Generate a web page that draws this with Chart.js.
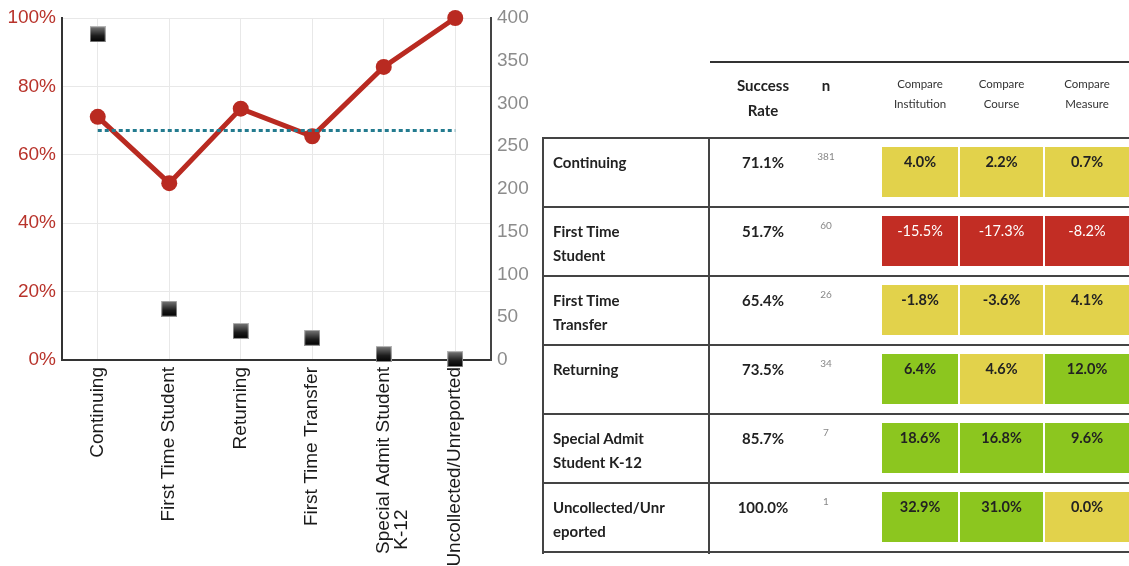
<!DOCTYPE html>
<html>
<head>
<meta charset="utf-8">
<script src="https://cdn.jsdelivr.net/npm/chart.js@4.4.1/dist/chart.umd.min.js"></script>
<style>
  body { margin: 0; background: #fff; }
  #wrap { position: relative; width: 1129px; height: 566px; overflow: hidden; }
  #chartBox { position: absolute; left: 0; top: 0; width: 540px; height: 566px; }
  #table { position: absolute; left: 0; top: 0; width: 1129px; height: 566px; font-family: Lato, "Open Sans", sans-serif; color: #222; }
  .abs { position: absolute; white-space: nowrap; }
</style>
</head>
<body>
<div id="wrap">
  <div id="chartBox"><canvas id="myChart"></canvas></div>
  <div id="table"></div>
</div>
<script>
// chart data
const categories = ['Continuing', 'First Time Student', 'Returning', 'First Time Transfer', ['Special Admit Student', 'K-12'], 'Uncollected/Unreported'];
const successRate = [71.1, 51.7, 73.5, 65.4, 85.7, 100.0];
const studentCount = [381, 60, 34, 26, 7, 1];
const institutionRate = [67.1, 67.1, 67.1, 67.1, 67.1, 67.1];
const leftTicks = [0, 20, 40, 60, 80, 100];
const rightTicks = [0, 50, 100, 150, 200, 250, 300, 350, 400];

// table data
const tableLabels = [['Continuing'], ['First Time', 'Student'], ['First Time', 'Transfer'], ['Returning'], ['Special Admit', 'Student K-12'], ['Uncollected/Unr', 'eported']];
const tableRates = ['71.1%', '51.7%', '65.4%', '73.5%', '85.7%', '100.0%'];
const tableN = [381, 60, 26, 34, 7, 1];
const compareInstitution = [4.0, -15.5, -1.8, 6.4, 18.6, 32.9];
const compareCourse = [2.2, -17.3, -3.6, 4.6, 16.8, 31.0];
const compareMeasure = [0.7, -8.2, 4.1, 12.0, 9.6, 0.0];
const compareHeaders = [['Compare', 'Institution'], ['Compare', 'Course'], ['Compare', 'Measure']];

const tickFont = { family: 'Liberation Sans, Arial, sans-serif', size: 19 };

// second lines of wrapped labels start at the same end as the first line (like the original)
const measure = document.createElement('canvas').getContext('2d');
measure.font = '19px "Liberation Sans", Arial, sans-serif';
const xLabels = categories.map(c => {
  if (!Array.isArray(c)) return c;
  const w0 = measure.measureText(c[0]).width;
  return c.map((line, i) => {
    if (i === 0) return line;
    let s = line;
    while (measure.measureText(s + ' ').width <= w0) s += ' ';
    return s;
  });
});

// gradient square for the n markers
const sq = document.createElement('canvas');
sq.width = 16; sq.height = 16;
const sctx = sq.getContext('2d');
const grad = sctx.createLinearGradient(0, 0, 0, 16);
grad.addColorStop(0, '#7c7c7c');
grad.addColorStop(0.6, '#1c1c1c');
grad.addColorStop(1, '#000');
sctx.fillStyle = grad;
sctx.fillRect(0, 0, 16, 16);
sctx.strokeStyle = 'rgba(210,210,210,0.7)';
sctx.lineWidth = 1;
sctx.strokeRect(0.5, 0.5, 15, 15);

const ctx = document.getElementById('myChart');
const myChart = new Chart(ctx, {
  type: 'line',
  data: {
    labels: xLabels,
    datasets: [{
      label: 'n',
      data: studentCount,
      yAxisID: 'y1',
      showLine: false,
      pointStyle: sq,
      pointRadius: 8,
      pointHoverRadius: 8,
      clip: false,
      order: 0
    }, {
      label: 'Institution',
      data: institutionRate,
      yAxisID: 'y',
      borderColor: '#237b8f',
      borderWidth: 3,
      borderDash: [4, 3],
      pointRadius: 0,
      fill: false,
      order: 1
    }, {
      label: 'Success Rate',
      data: successRate,
      yAxisID: 'y',
      borderColor: '#b92a21',
      backgroundColor: '#b92a21',
      borderWidth: 5,
      pointRadius: 8,
      pointHoverRadius: 8,
      pointBorderWidth: 0,
      clip: false,
      order: 2
    }]
  },
  options: {
    responsive: true,
    maintainAspectRatio: false,
    animation: false,
    layout: { padding: { top: 18, left: 0, right: 0, bottom: 0 } },
    plugins: { legend: { display: false }, tooltip: { enabled: false } },
    scales: {
      x: {
        offset: true,
        grid: { color: '#e8e8e8', drawTicks: false, offset: false },
        border: { color: '#333', width: 2 },
        ticks: { color: '#1a1a1a', font: { ...tickFont, lineHeight: 0.95 }, minRotation: 90, maxRotation: 90, padding: 7, autoSkip: false },
        afterFit: (s) => { s.height = 206; }
      },
      y: {
        position: 'left',
        min: 0, max: 100,
        afterBuildTicks: (s) => { s.ticks = leftTicks.map(v => ({ value: v })); },
        grid: { color: '#e8e8e8', drawTicks: false },
        border: { color: '#333', width: 2 },
        ticks: { color: '#b8332b', font: tickFont, padding: 6, callback: v => v + '%' },
        afterFit: (s) => { s.width = 62; }
      },
      y1: {
        position: 'right',
        min: 0, max: 400,
        afterBuildTicks: (s) => { s.ticks = rightTicks.map(v => ({ value: v })); },
        grid: { drawOnChartArea: false, drawTicks: false },
        border: { color: '#444', width: 2 },
        ticks: { color: '#8c8c8c', font: tickFont, padding: 6 },
        afterFit: (s) => { s.width = 49; }
      }
    }
  }
});

// table drawn as positioned blocks
const tbl = document.getElementById('table');
function put(html, css) {
  const d = document.createElement('div');
  d.className = 'abs';
  d.innerHTML = html;
  Object.assign(d.style, css);
  tbl.appendChild(d);
  return d;
}

// header
put('', { left: '710px', top: '61px', width: '419px', height: '0', borderTop: '2px solid #333' });
put('Success<br>Rate', { left: '713px', top: '73px', width: '100px', textAlign: 'center', fontWeight: 'bold', fontSize: '15px', lineHeight: '25px' });
put('n', { left: '806px', top: '73px', width: '40px', textAlign: 'center', fontWeight: 'bold', fontSize: '15px', lineHeight: '25px' });
const cellX = [[882, 958], [960, 1043], [1045, 1129]];
compareHeaders.forEach((h, i) => {
  put(h.join('<br>'), { left: cellX[i][0] + 'px', top: '74px', width: (cellX[i][1] - cellX[i][0]) + 'px', textAlign: 'center', fontSize: '11.5px', lineHeight: '20px', color: '#333' });
});

// body
const rowTop = [138, 207, 276, 345, 414, 483, 552];
for (let r = 0; r < 7; r++) {
  put('', { left: '543px', top: (rowTop[r] - 1) + 'px', width: '586px', height: '0', borderTop: '2px solid #444' });
}
put('', { left: '542px', top: '137px', width: '0', height: '417px', borderLeft: '2px solid #444' });
put('', { left: '708px', top: '137px', width: '0', height: '417px', borderLeft: '2px solid #444' });

function cellColor(v) {
  if (v <= -5) return '#c22d24';
  if (v >= 5) return '#8cc61f';
  return '#e2d24b';
}

tableLabels.forEach((lab, r) => {
  const t = rowTop[r];
  put(lab.join('<br>'), { left: '553px', top: (t + 12) + 'px', fontWeight: 'bold', fontSize: '15px', lineHeight: '24px' });
  put(tableRates[r], { left: '713px', top: (t + 12) + 'px', width: '100px', textAlign: 'center', fontWeight: 'bold', fontSize: '15px', lineHeight: '24px' });
  put(String(tableN[r]), { left: '806px', top: (t + 10) + 'px', width: '40px', textAlign: 'center', fontSize: '10px', lineHeight: '16px', color: '#888' });
  [compareInstitution, compareCourse, compareMeasure].forEach((arr, c) => {
    const v = arr[r];
    const bg = cellColor(v);
    put(v.toFixed(1) + '%', {
      left: cellX[c][0] + 'px', top: (t + 9) + 'px', width: (cellX[c][1] - cellX[c][0]) + 'px', height: '50px',
      background: bg, textAlign: 'center', fontSize: '14.5px', lineHeight: '30px',
      fontWeight: v <= -5 ? 'normal' : 'bold', color: v <= -5 ? '#fff' : '#222'
    });
  });
});
</script>
</body>
</html>
